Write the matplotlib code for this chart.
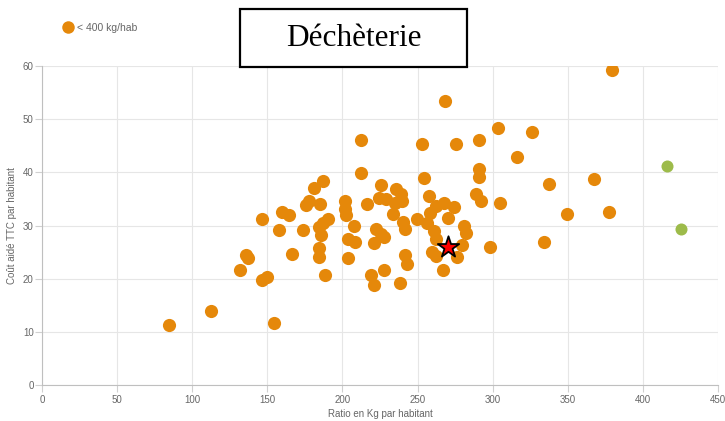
import matplotlib
matplotlib.use("Agg")
import matplotlib.pyplot as plt
from matplotlib.patches import Rectangle
from matplotlib.lines import Line2D

plt.rcParams["font.family"] = ["Liberation Sans", "DejaVu Sans"]

# communes < 400 kg/hab : (ratio kg/hab, coût aidé TTC / hab)
ratio_low = [
    84.5, 112.6, 154.4, 131.5, 135.7, 137.0, 146.4, 149.7, 146.4, 157.5,
    159.5, 164.6, 166.5, 173.7, 175.5, 177.8, 181.4, 187.3, 185.3, 190.4,
    187.0, 184.6, 186.0, 184.5, 184.5, 188.3, 201.5, 201.5, 202.3, 207.4,
    203.5, 208.1, 203.4, 212.2, 212.1, 216.3, 219.3, 221.0, 222.3, 225.9,
    227.5, 220.7, 224.3, 229.2, 225.6, 227.4, 236.0, 239.2, 239.8, 234.7,
    234.0, 240.5, 241.6, 241.5, 243.3, 238.1, 249.8, 254.2, 257.4, 253.3,
    268.4, 275.3, 258.0, 262.4, 267.5, 274.6, 270.2, 256.3, 260.8, 262.2,
    259.7, 262.0, 267.0, 276.2, 279.5, 281.0, 282.4, 289.0, 292.3, 291.2,
    291.2, 291.2, 298.3, 303.7, 305.2, 316.3, 326.3, 334.4, 337.5, 349.3,
    367.2, 377.2, 379.2,
]
cout_low = [
    11.3, 14.0, 11.6, 21.6, 24.4, 23.9, 19.7, 20.3, 31.2, 29.2,
    32.5, 32.0, 24.7, 29.2, 33.9, 34.7, 37.1, 38.3, 34.0, 31.3,
    30.5, 29.8, 28.3, 25.8, 24.1, 20.6, 34.7, 33.1, 32.0, 29.9,
    27.4, 26.9, 23.8, 46.1, 39.9, 34.1, 20.6, 18.8, 29.3, 28.4,
    27.8, 26.8, 35.1, 34.9, 37.6, 21.7, 36.8, 36.0, 34.6, 34.2,
    32.1, 30.6, 29.4, 24.4, 22.7, 19.2, 31.2, 39.0, 35.5, 45.3,
    53.5, 45.3, 32.4, 33.6, 34.2, 33.5, 31.5, 30.5, 28.9, 27.5,
    25.1, 24.2, 21.7, 24.0, 26.4, 29.9, 28.6, 36.0, 34.7, 40.7,
    39.2, 46.0, 26.0, 48.3, 34.3, 42.9, 47.5, 26.9, 37.9, 32.1,
    38.8, 32.6, 59.3,
]

# communes > 400 kg/hab
ratio_high = [416.4, 425.3]
cout_high = [41.2, 29.4]

# commune mise en évidence
ratio_star = [270.2]
cout_star = [26.0]

x_ticks = [0, 50, 100, 150, 200, 250, 300, 350, 400, 450]
y_ticks = [0, 10, 20, 30, 40, 50, 60]

orange = "#E5880A"
green = "#9DBB4A"
txt_gray = "#666666"

fig = plt.figure(figsize=(7.25, 4.21), dpi=100)
ax = fig.add_axes([0.0579, 0.0855, 0.9324, 0.7577])

ax.scatter(ratio_low, cout_low, s=90, color=orange, linewidths=0, zorder=3)
ax.scatter(ratio_high, cout_high, s=75, color=green, linewidths=0, zorder=3)
ax.scatter(ratio_star, cout_star, s=260, marker="*", color="red",
           edgecolors="black", linewidths=1.3, zorder=4)

ax.set_xlim(0, 450)
ax.set_ylim(0, 60)
ax.set_xticks(x_ticks)
ax.set_yticks(y_ticks)
ax.grid(True, color="#e6e6e6", linewidth=0.8, zorder=0)
ax.set_axisbelow(True)
for side in ["top", "right"]:
    ax.spines[side].set_visible(False)
for side in ["left", "bottom"]:
    ax.spines[side].set_color("#bfbfbf")
    ax.spines[side].set_linewidth(0.8)
ax.tick_params(axis="both", length=5, width=0.8, color="#d0d0d0",
               labelsize=7, labelcolor=txt_gray)
ax.tick_params(axis="x", pad=2)
ax.tick_params(axis="y", pad=1)

ax.set_xlabel("Ratio en Kg par habitant", fontsize=7, color=txt_gray, labelpad=3)
ax.set_ylabel("Coût aidé TTC par habitant", fontsize=7, color=txt_gray, labelpad=4)

# légende
handle = Line2D([], [], marker="o", linestyle="none", markersize=9,
                markerfacecolor=orange, markeredgewidth=0)
fig.legend([handle], ["< 400 kg/hab"], loc="center left",
           bbox_to_anchor=(0.074, 0.934), frameon=False, fontsize=7.5,
           labelcolor=txt_gray, handletextpad=0.35, handlelength=1.0)

# titre encadré
fig.add_artist(Rectangle((0.331, 0.841), 0.313, 0.137, transform=fig.transFigure,
                         facecolor="white", edgecolor="black", linewidth=1.6,
                         zorder=10))
fig.text(0.4876, 0.909, "Déchèterie", ha="center", va="center",
         fontsize=22.5, family="Liberation Serif", zorder=11)

fig.savefig("out.png", dpi=100)
